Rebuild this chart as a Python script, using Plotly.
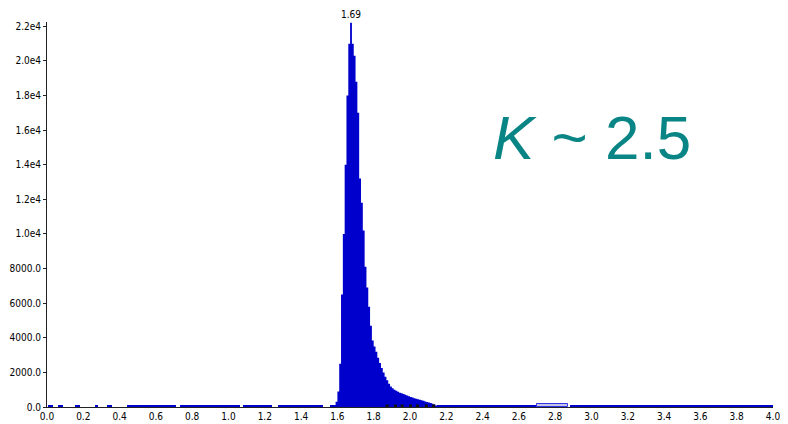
import plotly.graph_objects as go

# ---- data ----
# main histogram peak: bin left edges (width 0.01) and counts
peak_bin_left = [round(1.59 + 0.01 * i, 2) for i in range(56)]
peak_counts = [300, 900, 2500, 6500, 10000, 14000, 18000, 21000, 22200, 21000,
               20300, 18800, 17000, 13200, 11800, 10200, 8100, 6900, 5800, 4700,
               3850, 3500, 3200, 2850, 2550, 2250, 2000, 1750, 1550, 1350,
               1180, 1080, 1000, 940, 880, 830, 790, 750, 710, 670,
               620, 580, 545, 510, 480, 450, 415, 385, 355, 325,
               295, 265, 230, 190, 140, 90]
bin_width = 0.01

# sparse low-count runs along the baseline: start, end, count
low_start = [0.005, 0.06, 0.155, 0.265, 0.33, 0.44, 0.73, 1.08, 1.27, 1.56, 2.15, 2.885, 2.895]
low_end   = [0.033, 0.088, 0.182, 0.28, 0.36, 0.71, 1.065, 1.24, 1.52, 1.59, 2.70, 2.89, 4.0]
low_count = [90, 90, 90, 90, 90, 90, 90, 90, 90, 90, 90, 90, 90]

# faint run near 2.8
faint_start = [2.70]
faint_end = [2.87]
faint_count = [170]

# small dark marks on the baseline under the tail
mark_x = [1.874, 1.92, 1.957, 2.003, 2.041, 2.09, 2.13]
mark_y = [60, 60, 60, 60, 60, 60, 60]

peak_label = "1.69"
peak_label_x = 1.675

y_tick_vals = [0, 2000, 4000, 6000, 8000, 10000, 12000, 14000, 16000, 18000, 20000, 22000]
y_tick_text = ["0.0", "2000.0", "4000.0", "6000.0", "8000.0", "1.0e4", "1.2e4",
               "1.4e4", "1.6e4", "1.8e4", "2.0e4", "2.2e4"]
x_tick_vals = [round(0.2 * i, 1) for i in range(21)]
x_tick_text = ["%.1f" % v for v in x_tick_vals]

BLUE = "#0000CC"
FONT = "Liberation Sans Narrow, Arial Narrow, DejaVu Sans Condensed, sans-serif"

fig = go.Figure()

fig.add_trace(go.Bar(
    x=[s + (e - s) / 2 for s, e in zip(low_start, low_end)],
    y=low_count,
    width=[e - s for s, e in zip(low_start, low_end)],
    marker=dict(color=BLUE, line=dict(width=0)),
    hoverinfo="skip",
))
fig.add_trace(go.Bar(
    x=[s + (e - s) / 2 for s, e in zip(faint_start, faint_end)],
    y=faint_count,
    width=[e - s for s, e in zip(faint_start, faint_end)],
    marker=dict(color="#C4C4E4", line=dict(width=1, color="#3333EE")),
    hoverinfo="skip",
))

# histogram outline: each bin contributes its left and right edge at its count
step_x, step_y = [], []
for left, count in zip(peak_bin_left, peak_counts):
    step_x += [left, round(left + bin_width, 3)]
    step_y += [count, count]
fig.add_trace(go.Scatter(
    x=[step_x[0]] + step_x + [step_x[-1]], y=[0] + step_y + [0],
    mode="lines", line=dict(color=BLUE, width=0),
    fill="toself", fillcolor=BLUE, hoverinfo="skip",
))
fig.add_trace(go.Scatter(
    x=mark_x, y=mark_y, mode="markers",
    marker=dict(symbol="square", size=3, color="#111111"), hoverinfo="skip",
))

fig.add_annotation(
    x=peak_label_x, y=max(peak_counts), text=peak_label, showarrow=False,
    yanchor="bottom", yshift=1, font=dict(family=FONT, size=10, color="black"),
)
fig.add_annotation(
    xref="paper", yref="paper", x=0.75, y=0.70, text="<i>K</i> ~ 2.5",
    showarrow=False, xanchor="center", yanchor="middle",
    font=dict(family="Liberation Sans, Arial, sans-serif", size=62, color="#0A8585"),
)

# the page body adds an 8px offset, so the figure is sized to the visible area
fig.update_layout(
    width=780, height=416,
    margin=dict(l=39, r=15, t=14, b=17),
    paper_bgcolor="white", plot_bgcolor="white",
    showlegend=False, barmode="overlay", bargap=0,
    font=dict(family=FONT, size=10, color="black"),
)
fig.update_xaxes(
    range=[0, 4.0], tickvals=x_tick_vals, ticktext=x_tick_text, automargin=False,
    showgrid=False, zeroline=False, showline=True, linecolor="#222222", linewidth=1,
    ticks="", tickfont=dict(family=FONT, size=10, color="black"),
)
fig.update_yaxes(
    range=[0, 22250], tickvals=y_tick_vals, ticktext=y_tick_text, automargin=False,
    showgrid=False, zeroline=False, showline=True, linecolor="#222222", linewidth=1,
    ticks="outside", ticklen=3, tickcolor="#222222",
    tickfont=dict(family=FONT, size=10, color="black"),
)

fig.write_html("out.html")
